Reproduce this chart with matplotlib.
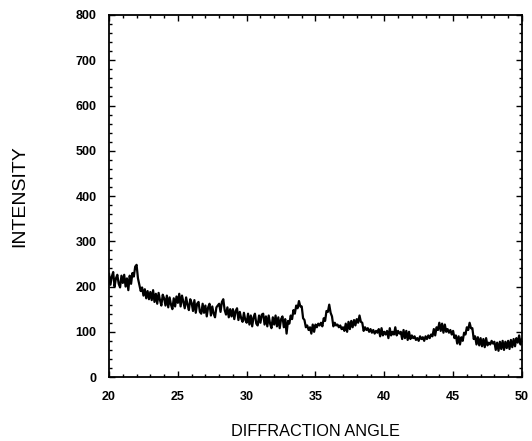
import numpy as np
import matplotlib.pyplot as plt
from matplotlib.ticker import MultipleLocator

# diffraction pattern (step 0.1 deg, 20.0 - 50.0)
angle_start = 20.0
angle_step = 0.1
intensity = [
    228, 204, 222, 232, 200, 218, 226, 206, 198, 224,   # 20
    208, 226, 200, 218, 192, 224, 206, 230, 222, 244,   # 21
    248, 218, 204, 190, 198, 180, 194, 174, 190, 172,   # 22
    188, 170, 192, 166, 184, 162, 186, 170, 158, 182,   # 23
    174, 158, 180, 154, 176, 160, 150, 174, 156, 178,   # 24
    164, 184, 156, 180, 166, 152, 176, 160, 148, 172,   # 25
    164, 146, 170, 142, 162, 166, 144, 140, 162, 142,   # 26
    158, 134, 154, 162, 136, 156, 140, 132, 154, 158,   # 27
    162, 144, 166, 172, 148, 138, 154, 132, 150, 134,   # 28
    150, 128, 146, 152, 126, 144, 130, 122, 142, 126,   # 29
    120, 140, 116, 136, 112, 132, 140, 118, 114, 136,   # 30
    120, 138, 140, 116, 134, 112, 136, 118, 108, 132,   # 31
    116, 136, 112, 132, 108, 128, 134, 110, 128, 96,    # 32
    124, 118, 136, 128, 148, 140, 158, 152, 168, 156,   # 33
    156, 130, 126, 110, 114, 104, 110, 96, 116, 100,    # 34
    116, 110, 118, 114, 120, 112, 130, 124, 146, 144,   # 35
    160, 142, 134, 112, 120, 114, 116, 110, 114, 106,   # 36
    110, 102, 118, 100, 122, 106, 124, 110, 126, 114,   # 37
    128, 120, 136, 122, 120, 102, 110, 104, 108, 100,   # 38
    106, 98, 104, 96, 102, 98, 106, 90, 108, 92,        # 39
    100, 94, 102, 86, 108, 92, 100, 94, 110, 92,        # 40
    102, 96, 100, 84, 104, 86, 102, 82, 100, 84,        # 41
    92, 86, 90, 82, 86, 80, 90, 84, 88, 80,             # 42
    90, 84, 92, 86, 94, 90, 106, 92, 110, 104,          # 43
    120, 102, 118, 98, 116, 100, 106, 98, 104, 94,      # 44
    102, 86, 92, 74, 90, 72, 88, 80, 98, 94,            # 45
    110, 104, 120, 108, 108, 84, 90, 72, 88, 70,        # 46
    86, 68, 84, 66, 86, 70, 76, 72, 80, 74,             # 47
    78, 60, 76, 58, 78, 62, 80, 60, 78, 64,             # 48
    80, 62, 82, 66, 84, 68, 86, 76, 92, 72,             # 49
    84,                                                 # 50
]
angle = angle_start + angle_step * np.arange(len(intensity))

plt.rcParams['font.family'] = ['Liberation Sans', 'DejaVu Sans']

fig = plt.figure(figsize=(5.32, 4.41), dpi=100)
ax = fig.add_axes([0.205, 0.145, 0.776, 0.821])

ax.plot(angle, intensity, color='black', linewidth=1.6)

ax.set_xlim(20, 50)
ax.set_ylim(0, 800)
ax.xaxis.set_major_locator(MultipleLocator(5))
ax.xaxis.set_minor_locator(MultipleLocator(1))
ax.yaxis.set_major_locator(MultipleLocator(100))
ax.yaxis.set_minor_locator(MultipleLocator(20))
ax.tick_params(which='both', direction='in', top=True, right=True,
               labelsize=9, width=1)
ax.tick_params(which='major', length=4)
ax.tick_params(which='minor', length=2)
for lbl in ax.get_xticklabels() + ax.get_yticklabels():
    lbl.set_fontweight('bold')
ax.tick_params(axis='x', pad=10)
ax.tick_params(axis='y', pad=9)
for s in ax.spines.values():
    s.set_linewidth(1.3)

ax.set_xlabel('DIFFRACTION ANGLE', fontsize=11.7, labelpad=15)
ax.set_ylabel('INTENSITY', fontsize=14, labelpad=34)

fig.savefig('out.png', dpi=100)
